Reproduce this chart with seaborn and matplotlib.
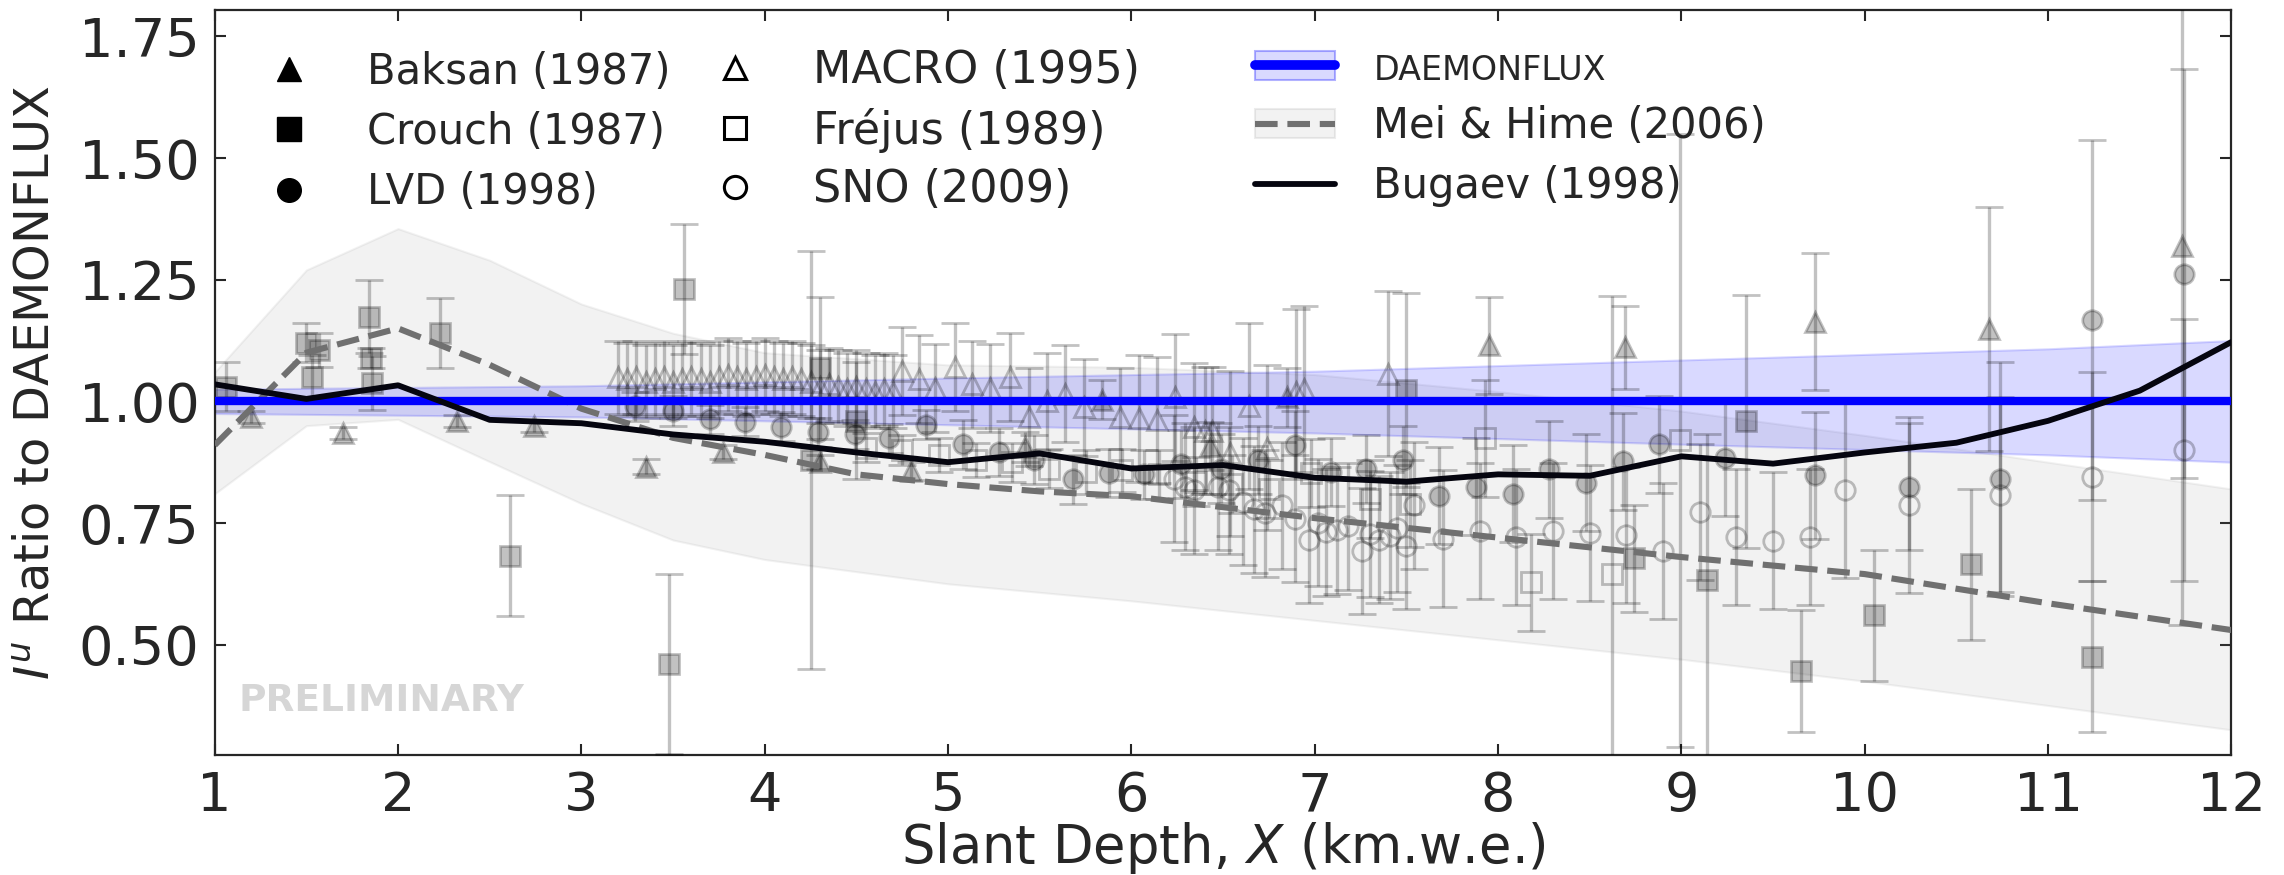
import matplotlib
matplotlib.use("Agg")
import matplotlib.pyplot as plt
import seaborn as sns
from matplotlib.lines import Line2D
from matplotlib.patches import Patch

# ================= 数据 =================
# DAEMONFLUX reference (ratio = 1) and its band
DAEMON_X = [1, 3, 5, 7, 9, 11, 12]
DAEMON_Y = [1.0, 1.0, 1.0, 1.0, 1.0, 1.0, 1.0]
DAEMON_LO = [0.975, 0.968, 0.952, 0.935, 0.912, 0.89, 0.875]
DAEMON_HI = [1.025, 1.032, 1.048, 1.062, 1.085, 1.108, 1.125]

# Mei & Hime (2006)
MEI_X = [1, 1.5, 2, 2.5, 3, 3.5, 4, 4.5, 5, 5.5, 6, 7, 8, 9, 10, 11, 12]
MEI_Y = [0.91, 1.10, 1.15, 1.075, 0.985, 0.925, 0.89, 0.85, 0.83, 0.815, 0.805,
         0.76, 0.72, 0.68, 0.645, 0.585, 0.53]
MEI_BAND_X = [1, 1.5, 2, 2.5, 3, 3.5, 4, 5, 6, 7, 8, 9, 10, 11, 12]
MEI_BAND_HI = [1.06, 1.27, 1.355, 1.29, 1.20, 1.14, 1.10, 1.075, 1.07, 1.055,
               1.02, 0.98, 0.93, 0.875, 0.82]
MEI_BAND_LO = [0.81, 0.95, 0.963, 0.876, 0.79, 0.715, 0.675, 0.625, 0.59, 0.55,
               0.51, 0.47, 0.425, 0.375, 0.325]

# Bugaev (1998)
BUG_X = [1, 1.5, 2, 2.5, 3, 3.5, 4, 4.5, 5, 5.5, 6, 6.5, 7, 7.5, 8, 8.5, 9,
         9.5, 10, 10.5, 11, 11.5, 12]
BUG_Y = [1.035, 1.005, 1.033, 0.962, 0.955, 0.932, 0.917, 0.895, 0.875, 0.893,
         0.862, 0.869, 0.843, 0.835, 0.85, 0.847, 0.887, 0.872, 0.895, 0.915,
         0.96, 1.022, 1.122]

# Baksan (1987) - filled triangles
BAKSAN_X = [1.20, 1.70, 2.32, 2.74, 3.35, 3.77, 4.30, 4.80, 5.42, 5.84, 6.43,
            6.85, 7.95, 8.69, 9.73, 10.68, 11.73]
BAKSAN_Y = [0.968, 0.935, 0.959, 0.950, 0.866, 0.896, 0.875, 0.857, 0.906,
            1.003, 0.908, 1.008, 1.115, 1.111, 1.164, 1.149, 1.320]
BAKSAN_ERR = [0.012, 0.012, 0.012, 0.012, 0.015, 0.015, 0.015, 0.018, 0.03,
              0.04, 0.05, 0.06, 0.10, 0.085, 0.14, 0.25, 0.78]

# Crouch (1987) - filled squares
CROUCH_X = [1.06, 1.50, 1.53, 1.57, 1.84, 1.85, 1.86, 2.23, 2.61, 3.48, 3.56,
            4.25, 4.30, 4.50, 7.50, 8.74, 9.14, 9.35, 9.65, 10.05, 10.58, 11.24]
CROUCH_Y = [1.03, 1.12, 1.05, 1.105, 1.174, 1.089, 1.038, 1.141, 0.683, 0.46,
            1.231, 0.88, 1.068, 0.96, 1.023, 0.678, 0.632, 0.959, 0.446, 0.56,
            0.665, 0.475]
CROUCH_ERR_LO = [0.05, 0.04, 0.045, 0.035, 0.075, 0.02, 0.055, 0.072, 0.125,
                 0.185, 0.133, 0.43, 0.146, 0.12, 0.2, 0.11, 0.4, 0.26, 0.125,
                 0.135, 0.155, 0.155]
CROUCH_ERR_HI = [0.05, 0.04, 0.045, 0.035, 0.075, 0.02, 0.055, 0.072, 0.125,
                 0.185, 0.133, 0.43, 0.146, 0.12, 0.2, 0.11, 0.3, 0.26, 0.125,
                 0.135, 0.155, 0.155]

# LVD (1998) - filled circles
LVD_X = [3.29, 3.50, 3.70, 3.89, 4.09, 4.29, 4.49, 4.68, 4.88,
         5.08, 5.28, 5.47, 5.68, 5.88, 6.07,
         6.27, 6.49, 6.69, 6.89, 7.09, 7.28, 7.48,
         7.68, 7.88, 8.08, 8.28, 8.48, 8.68, 8.88,
         9.24, 9.73, 10.24, 10.74, 11.24, 11.74]
LVD_Y = [0.99, 0.98, 0.963, 0.958, 0.948, 0.936, 0.932, 0.924, 0.952,
         0.912, 0.896, 0.88, 0.84, 0.853, 0.85,
         0.871, 0.862, 0.88, 0.91, 0.855, 0.861, 0.88,
         0.806, 0.825, 0.81, 0.86, 0.833, 0.877, 0.912,
         0.884, 0.848, 0.825, 0.84, 1.167, 1.262]
LVD_ERR = [0.03] * 9 + [0.05] * 6 + [0.07] * 7 + [0.10] * 7 + \
          [0.12, 0.13, 0.13, 0.24, 0.37, 0.42]

# MACRO (1995) - open triangles
MACRO_X = [3.20, 3.25, 3.30, 3.35, 3.40, 3.45, 3.50, 3.55, 3.60, 3.65, 3.70,
           3.75, 3.80, 3.85, 3.90, 3.95, 4.00, 4.05, 4.10, 4.15, 4.20, 4.25,
           4.30, 4.35, 4.40, 4.45, 4.50, 4.55, 4.60, 4.65, 4.70,
           4.75, 4.84, 4.93, 5.04, 5.13, 5.23, 5.34,
           5.44, 5.54, 5.64, 5.74, 5.94,
           6.04, 6.14, 6.24, 6.34, 6.40, 6.44,
           6.54, 6.64, 6.74, 6.90, 6.94, 7.40]
MACRO_Y = [1.05, 1.045, 1.05, 1.04, 1.045, 1.05, 1.04, 1.045, 1.05, 1.045, 1.04,
           1.05, 1.055, 1.05, 1.045, 1.05, 1.055, 1.05, 1.045, 1.05, 1.045, 1.04,
           1.03, 1.035, 1.03, 1.025, 1.03, 1.025, 1.02, 1.025, 1.02,
           1.062, 1.046, 1.027, 1.07, 1.035, 1.027, 1.05,
           0.968, 1.0, 1.016, 0.988, 0.968,
           0.965, 0.962, 1.008, 0.948, 0.94, 0.94,
           0.893, 0.99, 0.905, 1.02, 1.025, 1.057]
MACRO_ERR = [0.075] * 31 + [0.09] * 7 + [0.10] * 5 + [0.13] * 6 + [0.17] * 6

# Frejus (1989) - open squares
FREJUS_X = [4.55, 4.75, 4.95, 5.15, 5.35, 5.55, 5.75, 5.95, 6.15, 6.35, 6.55,
            6.75, 6.98, 7.30, 7.52, 7.93, 8.18, 8.62, 8.99]
FREJUS_Y = [0.905, 0.9, 0.89, 0.88, 0.875, 0.862, 0.855, 0.858, 0.85, 0.835,
            0.83, 0.82, 0.853, 0.80, 0.79, 0.924, 0.628, 0.646, 0.92]
FREJUS_ERR = [0.03, 0.03, 0.035, 0.035, 0.04, 0.04, 0.045, 0.045, 0.05, 0.05,
              0.06, 0.06, 0.07, 0.08, 0.09, 0.12, 0.10, 0.57, 0.63]

# SNO (2009) - open circles
SNO_X = [6.23, 6.29, 6.34, 6.47, 6.53, 6.61, 6.67, 6.73, 6.82, 6.89,
         6.97, 7.02, 7.06, 7.12, 7.18, 7.26, 7.30, 7.35, 7.41, 7.45,
         7.50, 7.54,
         7.70, 7.90, 8.10, 8.30, 8.50, 8.70, 8.90, 9.10, 9.30, 9.50, 9.70,
         9.89, 10.24, 10.74, 11.24, 11.74]
SNO_Y = [0.841, 0.825, 0.817, 0.825, 0.817, 0.794, 0.778, 0.77, 0.786, 0.759,
         0.716, 0.751, 0.731, 0.735, 0.743, 0.692, 0.727, 0.716, 0.724, 0.739,
         0.703, 0.786,
         0.718, 0.733, 0.722, 0.733, 0.729, 0.726, 0.692, 0.773, 0.722, 0.714,
         0.722,
         0.818, 0.787, 0.808, 0.845, 0.90]
SNO_ERR = [0.13] * 22 + [0.14] * 11 + [0.18, 0.18, 0.20, 0.215, 0.27]

# ================= 绘图 =================
sns.set_style("ticks")
plt.rcParams['font.family'] = ['DejaVu Sans']
plt.rcParams['mathtext.fontset'] = 'dejavusans'

fig, ax = plt.subplots(figsize=(22.84, 8.75), dpi=100)
fig.subplots_adjust(left=0.094, right=0.977, top=0.989, bottom=0.137)

# model bands
ax.fill_between(MEI_BAND_X, MEI_BAND_LO, MEI_BAND_HI, color='0.5', alpha=0.1,
                lw=1.5, zorder=1)
ax.fill_between(DAEMON_X, DAEMON_LO, DAEMON_HI, color='blue', alpha=0.15,
                lw=1.5, zorder=2)

# data points
ekw = dict(color='k', alpha=0.24, capsize=10, elinewidth=2.4, capthick=2.2,
           markersize=14, markeredgewidth=2, ls='none', zorder=3)
datasets = [
    (BAKSAN_X, BAKSAN_Y, [BAKSAN_ERR, BAKSAN_ERR], '^', 'k'),
    (CROUCH_X, CROUCH_Y, [CROUCH_ERR_LO, CROUCH_ERR_HI], 's', 'k'),
    (LVD_X, LVD_Y, [LVD_ERR, LVD_ERR], 'o', 'k'),
    (MACRO_X, MACRO_Y, [MACRO_ERR, MACRO_ERR], '^', 'none'),
    (FREJUS_X, FREJUS_Y, [FREJUS_ERR, FREJUS_ERR], 's', 'none'),
    (SNO_X, SNO_Y, [SNO_ERR, SNO_ERR], 'o', 'none'),
]
for xs, ys, err, mk, fc in datasets:
    ax.errorbar(xs, ys, yerr=err, marker=mk, mfc=fc, mec='k', **ekw)

# model lines
sns.lineplot(x=MEI_X, y=MEI_Y, ax=ax, color='#707070', lw=4.4, linestyle='--',
             zorder=4)
sns.lineplot(x=DAEMON_X, y=DAEMON_Y, ax=ax, color='blue', lw=6, zorder=5)
sns.lineplot(x=BUG_X, y=BUG_Y, ax=ax, color='#05050f', lw=4.2, zorder=6)

ax.text(1.13, 0.385, "PRELIMINARY", fontsize=27, fontweight='bold',
        color='#d6d6d6', va='center', ha='left', zorder=7)

ax.set_xlim(1, 12)
ax.set_ylim(0.273, 1.805)
ax.set_xticks(range(1, 13))
ax.set_yticks([0.50, 0.75, 1.00, 1.25, 1.50, 1.75])
ax.tick_params(direction='in', top=True, right=True, length=8, width=1.5,
               labelsize=39, pad=11)
for sp in ax.spines.values():
    sp.set_linewidth(1.6)
ax.set_xlabel(r"Slant Depth, $X$ (km.w.e.)", fontsize=38, labelpad=-2)
ax.set_ylabel(r"$I^u$ Ratio to DAEMONFLUX", fontsize=34.5, labelpad=14)

# legends (three columns)
leg_kw = dict(frameon=False, fontsize=30, handlelength=1.92, handletextpad=0.91,
              labelspacing=0.44, borderpad=0, borderaxespad=0, loc='upper left')
h1 = [Line2D([], [], ls='none', marker=m, color='k', ms=17) for m in ['^', 's', 'o']]
leg1 = ax.legend(h1, ['Baksan (1987)', 'Crouch (1987)', 'LVD (1998)'],
                 bbox_to_anchor=(0.017, 0.945), **leg_kw)
ax.add_artist(leg1)
h2 = [Line2D([], [], ls='none', marker=m, mfc='none', mec='k', mew=2.2, ms=16)
      for m in ['^', 's', 'o']]
leg2_kw = dict(leg_kw, fontsize=32, handlelength=1.8, handletextpad=0.86,
               labelspacing=0.35)
leg2 = ax.legend(h2, ['MACRO (1995)', 'Fréjus (1989)', 'SNO (2009)'],
                 bbox_to_anchor=(0.238, 0.947), **leg2_kw)
ax.add_artist(leg2)
h3 = [(Patch(fc=(0, 0, 1, 0.15), ec=(0, 0, 1, 0.3), lw=1.5),
       Line2D([], [], color='blue', lw=7)),
      (Patch(fc=(0.5, 0.5, 0.5, 0.1), ec=(0.5, 0.5, 0.5, 0.15), lw=1.5),
       Line2D([], [], color='#707070', lw=4.4, ls='--')),
      Line2D([], [], color='#05050f', lw=4.2)]
leg3 = ax.legend(h3, ['DAEMONFLUX', 'Mei & Hime (2006)', 'Bugaev (1998)'],
                 bbox_to_anchor=(0.516, 0.945), **leg_kw)
leg3.get_texts()[0].set_fontsize(24)

fig.savefig("out.png", dpi=100)
